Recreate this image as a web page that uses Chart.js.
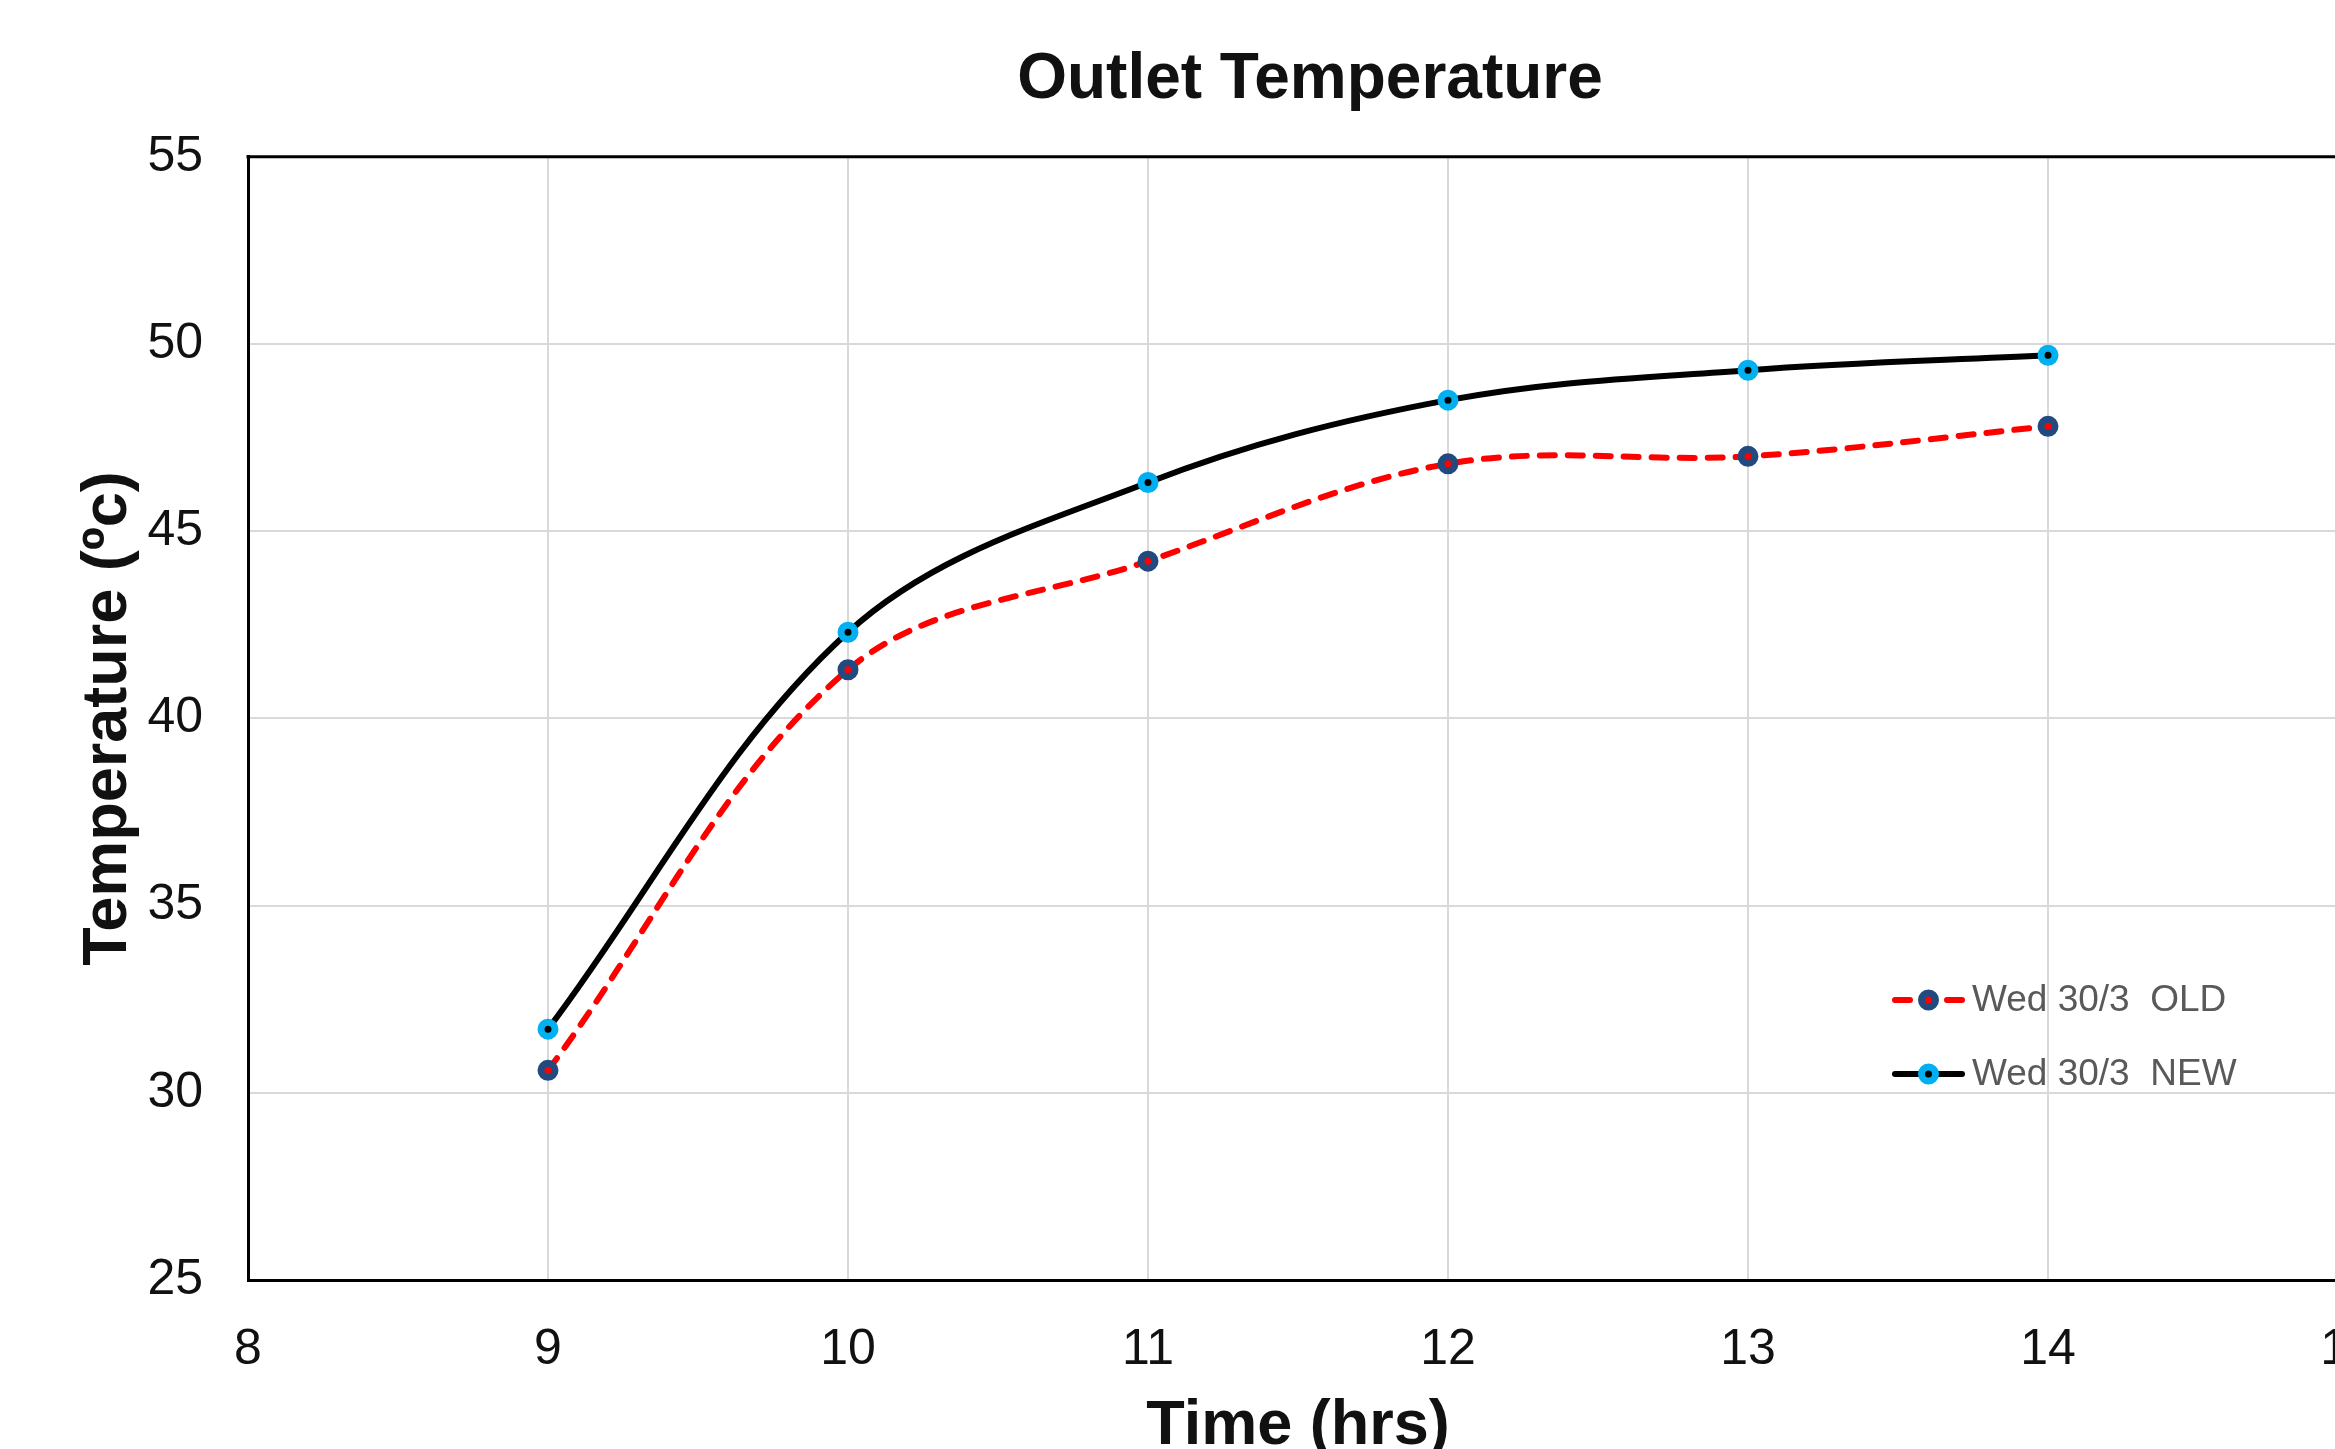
<!DOCTYPE html>
<html lang="en">
<head>
    <meta charset="UTF-8">
    <title>Outlet Temperature</title>
    <script src="https://cdn.jsdelivr.net/npm/chart.js"></script>
    <style>
        html, body {
            margin: 0;
            padding: 0;
            background: #ffffff;
            overflow: hidden;
        }
        #wrap {
            position: absolute;
            left: 0;
            top: 0;
            width: 2620px;
            height: 1500px;
        }
    </style>
</head>
<body>
<div id="wrap">
    <canvas id="chartCanvas" width="2620" height="1500"></canvas>
</div>

<script>
// data
const hours = [9, 10, 11, 12, 13, 14];
const oldTemps = [30.6, 41.3, 44.2, 46.8, 47.0, 47.8];
const newTemps = [31.7, 42.3, 46.3, 48.5, 49.3, 49.7];
const seriesLabels = ['Wed 30/3  OLD', 'Wed 30/3  NEW'];
const xRange = [8, 15];
const yRange = [25, 55];

const FONT = "'Liberation Sans', Arial, sans-serif";

function toPoints(xs, ys) {
    return xs.map((x, i) => ({ x: x, y: ys[i] }));
}

// box around the plot (top + right edges; left/bottom come from the axes)
const plotBorder = {
    id: 'plotBorder',
    afterDatasetsDraw(chart) {
        const a = chart.chartArea;
        const ctx = chart.ctx;
        ctx.save();
        ctx.strokeStyle = '#000';
        ctx.lineWidth = 3;
        ctx.beginPath();
        ctx.moveTo(a.left - 1.5, a.top);
        ctx.lineTo(a.right, a.top);
        ctx.lineTo(a.right, a.bottom);
        ctx.stroke();
        ctx.restore();
    }
};

// legend drawn inside the plot, like the original
const innerLegend = {
    id: 'innerLegend',
    afterDraw(chart) {
        const ctx = chart.ctx;
        const x0 = 1892, x1 = 1965, textX = 1972;
        const rows = [1000, 1074];
        ctx.save();
        chart.data.datasets.forEach((ds, i) => {
            const y = rows[i];
            const mid = (x0 + x1) / 2;
            ctx.strokeStyle = ds.borderColor;
            ctx.lineWidth = ds.borderWidth;
            ctx.lineCap = 'round';
            ctx.beginPath();
            if (ds.borderDash && ds.borderDash.length) {
                ctx.moveTo(x0 + 3, y); ctx.lineTo(x0 + 18, y);
                ctx.moveTo(x1 - 18, y); ctx.lineTo(x1 - 3, y);
            } else {
                ctx.moveTo(x0 + 3, y); ctx.lineTo(x1 - 3, y);
            }
            ctx.stroke();
            ctx.beginPath();
            ctx.arc(mid, y, ds.pointRadius, 0, Math.PI * 2);
            ctx.fillStyle = ds.pointBackgroundColor;
            ctx.fill();
            ctx.lineWidth = ds.pointBorderWidth;
            ctx.strokeStyle = ds.pointBorderColor;
            ctx.stroke();
            ctx.fillStyle = '#595959';
            ctx.font = '37px ' + FONT;
            ctx.textBaseline = 'middle';
            ctx.textAlign = 'left';
            ctx.fillText(ds.label, textX, y + 1);
        });
        ctx.restore();
    }
};

const ctx = document.getElementById('chartCanvas').getContext('2d');
const chart = new Chart(ctx, {
    type: 'line',
    data: {
        datasets: [
            {
                label: seriesLabels[0],
                data: toPoints(hours, oldTemps),
                borderColor: '#ff0000',
                borderWidth: 6,
                borderDash: [15, 13],
                borderCapStyle: 'round',
                tension: 0.35,
                pointRadius: 7,
                pointBorderWidth: 7,
                pointBackgroundColor: '#ff0000',
                pointBorderColor: '#234a7e',
                fill: false
            },
            {
                label: seriesLabels[1],
                data: toPoints(hours, newTemps),
                borderColor: '#000000',
                borderWidth: 6,
                borderCapStyle: 'round',
                tension: 0.35,
                pointRadius: 7,
                pointBorderWidth: 7,
                pointBackgroundColor: '#000000',
                pointBorderColor: '#00b0f0',
                fill: false
            }
        ]
    },
    options: {
        responsive: false,
        animation: false,
        devicePixelRatio: 1,
        layout: { padding: 0 },
        plugins: {
            legend: { display: false },
            tooltip: { enabled: false },
            title: {
                display: true,
                text: 'Outlet Temperature',
                color: '#111',
                font: { family: FONT, size: 64, weight: 'bold' },
                padding: { top: 42, bottom: 38 }
            }
        },
        scales: {
            x: {
                type: 'linear',
                position: 'bottom',
                min: xRange[0],
                max: xRange[1],
                ticks: {
                    stepSize: 1,
                    color: '#111',
                    font: { family: FONT, size: 50 },
                    padding: 40
                },
                grid: { color: '#d9d9d9', lineWidth: 2, drawTicks: false },
                border: { color: '#000', width: 3 },
                title: {
                    display: true,
                    text: 'Time (hrs)',
                    color: '#111',
                    font: { family: FONT, size: 63, weight: 'bold' },
                    padding: { top: 0, bottom: 36 }
                },
                afterFit(scale) { scale.height = 220; }
            },
            y: {
                type: 'linear',
                position: 'left',
                min: yRange[0],
                max: yRange[1],
                ticks: {
                    stepSize: 5,
                    color: '#111',
                    font: { family: FONT, size: 50 },
                    padding: 45
                },
                grid: { color: '#d9d9d9', lineWidth: 2, drawTicks: false },
                border: { color: '#000', width: 3 },
                title: {
                    display: true,
                    text: 'Temperature (ºc)',
                    color: '#111',
                    font: { family: FONT, size: 63, weight: 'bold' },
                    padding: { top: 71, bottom: 0 }
                },
                afterFit(scale) { scale.width = 248; }
            },
            // empty spacer on the right so the title centres like the original
            spacer: {
                type: 'linear',
                position: 'right',
                display: true,
                ticks: { display: false },
                grid: { display: false },
                border: { display: false },
                afterFit(scale) { scale.width = 272; }
            }
        }
    },
    plugins: [plotBorder, innerLegend]
});
</script>
</body>
</html>
